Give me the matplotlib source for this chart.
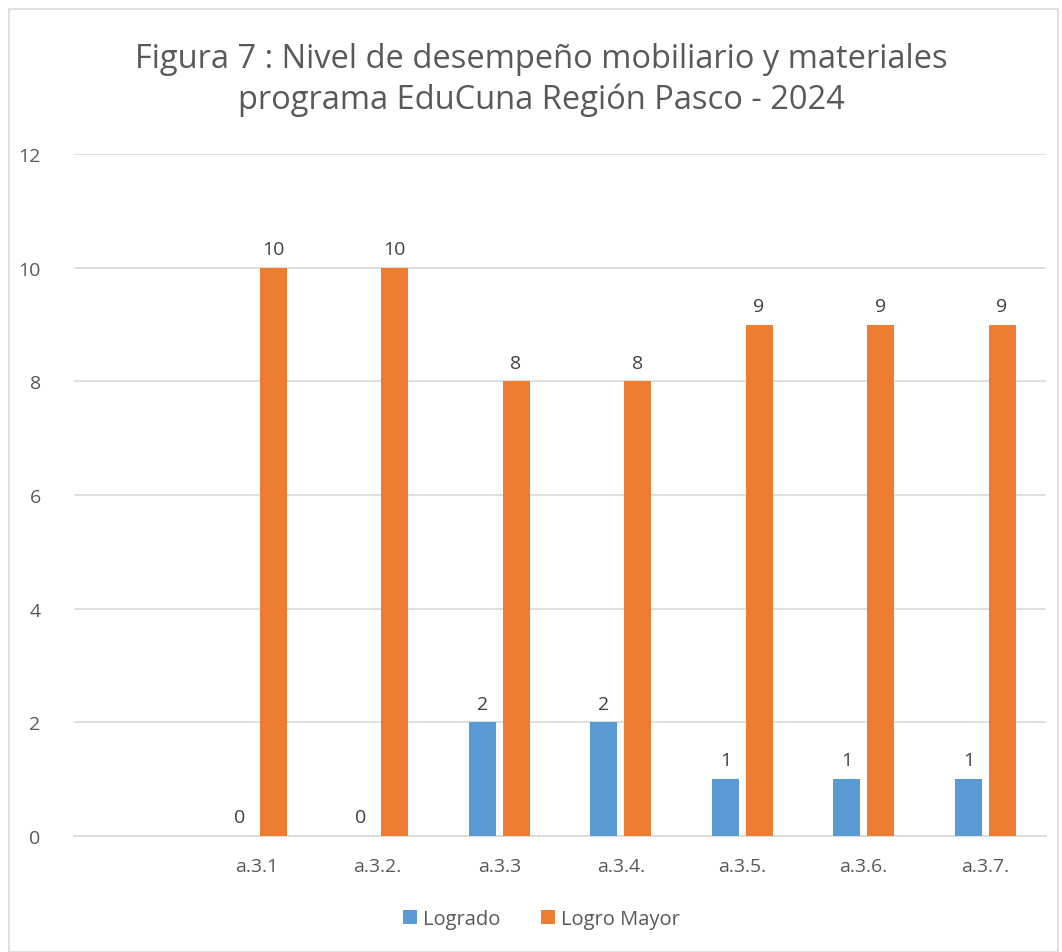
import matplotlib
matplotlib.use("Agg")
import matplotlib.pyplot as plt
import numpy as np
from matplotlib.patches import Rectangle

categories = ["", "a.3.1", "a.3.2.", "a.3.3", "a.3.4.", "a.3.5.", "a.3.6.", "a.3.7."]
logrado = [np.nan, 0, 0, 2, 2, 1, 1, 1]
logro_mayor = [np.nan, 10, 10, 8, 8, 9, 9, 9]
series_names = ["Logrado", "Logro Mayor"]
yticks = [0, 2, 4, 6, 8, 10, 12]

plt.rcParams['font.family'] = ['Open Sans', 'DejaVu Sans']
txt = '#595959'
blue = '#5B9BD5'
orange = '#ED7D31'

fig = plt.figure(figsize=(10.62, 9.53), dpi=100)
fig.patches.append(Rectangle((9/1062, 0), (1058-9)/1062, 1 - 10/953, transform=fig.transFigure,
                             fill=False, edgecolor='#D9D9D9', linewidth=1.2))
ax = fig.add_axes([74/1062, 1 - 837/953, (1046-74)/1062, (837-155)/953])

x = np.arange(len(categories))
w = 0.222
off = 0.138
b1 = ax.bar(x - off, logrado, w, color=blue, label=series_names[0], zorder=3)
b2 = ax.bar(x + off, logro_mayor, w, color=orange, label=series_names[1], zorder=3)
for xi, v in zip(x, logrado):
    if not np.isnan(v):
        ax.annotate(f"{int(v)}", (xi - off, v), xytext=(0, 7), textcoords='offset points',
                    ha='center', va='bottom', fontsize=14, color='#404040')
for xi, v in zip(x, logro_mayor):
    if not np.isnan(v):
        ax.annotate(f"{int(v)}", (xi + off, v), xytext=(0, 7), textcoords='offset points',
                    ha='center', va='bottom', fontsize=14, color='#404040')

ax.set_xlim(-0.5, len(categories) - 0.5)
ax.set_ylim(0, 12)
ax.set_yticks(yticks)
ax.set_xticks(x)
ax.set_xticklabels(categories)
ax.tick_params(axis='both', length=0, labelsize=14, colors=txt)
ax.tick_params(axis='y', pad=24)
ax.tick_params(axis='x', pad=15)
ax.grid(axis='y', color='#D9D9D9', linewidth=1.2, zorder=0)
for s in ['top', 'right', 'left']:
    ax.spines[s].set_visible(False)
ax.spines['bottom'].set_color('#D9D9D9')
ax.spines['bottom'].set_linewidth(1.2)

fig.text(0.510, 1 - 80/953, "Figura 7 : Nivel de desempeño mobiliario y materiales\nprograma EduCuna Región Pasco - 2024",
         ha='center', va='center', fontsize=23.5, color=txt, linespacing=1.28)

leg = fig.legend(handles=[b1, b2], labels=series_names, loc='center', bbox_to_anchor=(0.51, 1 - 920/953),
                 ncol=2, frameon=False, fontsize=14.5, handlelength=0.7, handleheight=0.7,
                 handletextpad=0.3, columnspacing=2.0)
for t in leg.get_texts():
    t.set_color(txt)

fig.savefig("out.png", dpi=100)
